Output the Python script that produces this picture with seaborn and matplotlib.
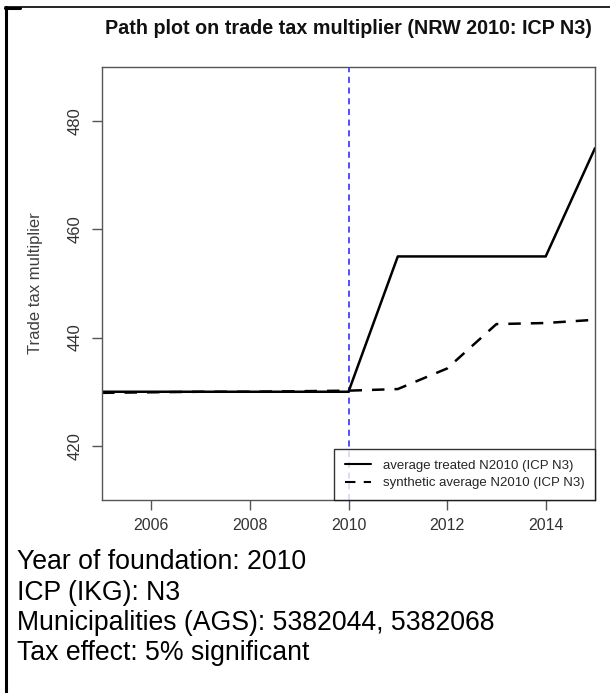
import matplotlib
matplotlib.use("Agg")
import matplotlib.pyplot as plt
from matplotlib.lines import Line2D
import seaborn as sns
import pandas as pd

years = [2005, 2006, 2007, 2008, 2009, 2010, 2011, 2012, 2013, 2014, 2015]
treated = [430.0, 430.0, 430.0, 430.0, 430.0, 430.0, 455.0, 455.0, 455.0, 455.0, 475.0]
synthetic = [429.8, 429.9, 430.0, 430.0, 430.1, 430.2, 430.5, 434.3, 442.5, 442.7, 443.3]
treat_year = 2010
label_treated = "average treated N2010 (ICP N3)"
label_synth = "synthetic average N2010 (ICP N3)"
title = "Path plot on trade tax multiplier (NRW 2010: ICP N3)"
ylabel = "Trade tax multiplier"
xticks = [2006, 2008, 2010, 2012, 2014]
yticks = [420, 440, 460, 480]
notes = ["Year of foundation: 2010",
         "ICP (IKG): N3",
         "Municipalities (AGS): 5382044, 5382068",
         "Tax effect: 5% significant"]

sns.set_style("white")
plt.rcParams['font.family'] = ['Liberation Sans', 'DejaVu Sans']

W, H = 610, 693
fig = plt.figure(figsize=(W / 100, H / 100), dpi=100)
fig.patch.set_facecolor("white")

# axes in pixel coordinates: left 102, right 595, top 67, bottom 500
l, r, t, b = 102, 595, 67, 500
ax = fig.add_axes([l / W, 1 - b / H, (r - l) / W, (b - t) / H])

df = pd.DataFrame({"year": years, "treated": treated, "synthetic": synthetic})
sns.lineplot(data=df, x="year", y="treated", ax=ax, color="black", lw=1.8,
             linestyle="-")
sns.lineplot(data=df, x="year", y="synthetic", ax=ax, color="black", lw=1.8,
             linestyle=(0, (5, 4)))
ax.axvline(treat_year, color="#2020ff", lw=1.1, linestyle=(0, (4, 3)), zorder=1)

ax.set_xlim(2005, 2015)
ax.set_ylim(410, 490)
ax.set_xticks(xticks)
ax.set_yticks(yticks)
ax.set_xticklabels([str(x) for x in xticks], fontsize=11.5, color="#333333")
ax.set_yticklabels([str(y) for y in yticks], fontsize=12, color="#333333",
                   rotation=90, va="center")
ax.tick_params(axis="both", direction="out", length=7, width=1, color="#555555",
               bottom=True, left=True, pad=6)
ax.tick_params(axis="y", pad=7)
ax.set_xlabel("")
ax.set_ylabel(ylabel, fontsize=12, color="#404040", labelpad=18)
for s in ax.spines.values():
    s.set_color("#555555")
    s.set_linewidth(1.0)

handles = [Line2D([], [], color="black", lw=1.5, linestyle="-"),
           Line2D([], [], color="black", lw=1.5, linestyle=(0, (5, 4)))]
leg = ax.legend(handles, [label_treated, label_synth], loc="lower right",
                fontsize=9.5, frameon=True, fancybox=False, borderaxespad=0,
                handlelength=2.0, handletextpad=0.9, labelspacing=0.4,
                borderpad=0.8)
leg.get_frame().set_edgecolor("black")
leg.get_frame().set_linewidth(1.0)

fig.text(348.5 / W, 1 - 28 / H, title, ha="center", va="center",
         fontsize=14.2, fontweight="bold", color="#111111")

for i, line in enumerate(notes):
    fig.text(17 / W, 1 - (562 + i * 30.5) / H, line, ha="left", va="center",
             fontsize=19.2, color="black")

# outer border (left and top)
fig.add_artist(Line2D([6 / W, 6 / W], [0, 1 - 7 / H], transform=fig.transFigure,
                      color="black", lw=2.2))
fig.add_artist(Line2D([5 / W, 1], [1 - 7 / H, 1 - 7 / H], transform=fig.transFigure,
                      color="black", lw=1.2))
fig.add_artist(Line2D([5 / W, 20 / W], [1 - 7.5 / H, 1 - 7.5 / H],
                      transform=fig.transFigure, color="black", lw=2.2))

fig.savefig("out.png", dpi=100)
